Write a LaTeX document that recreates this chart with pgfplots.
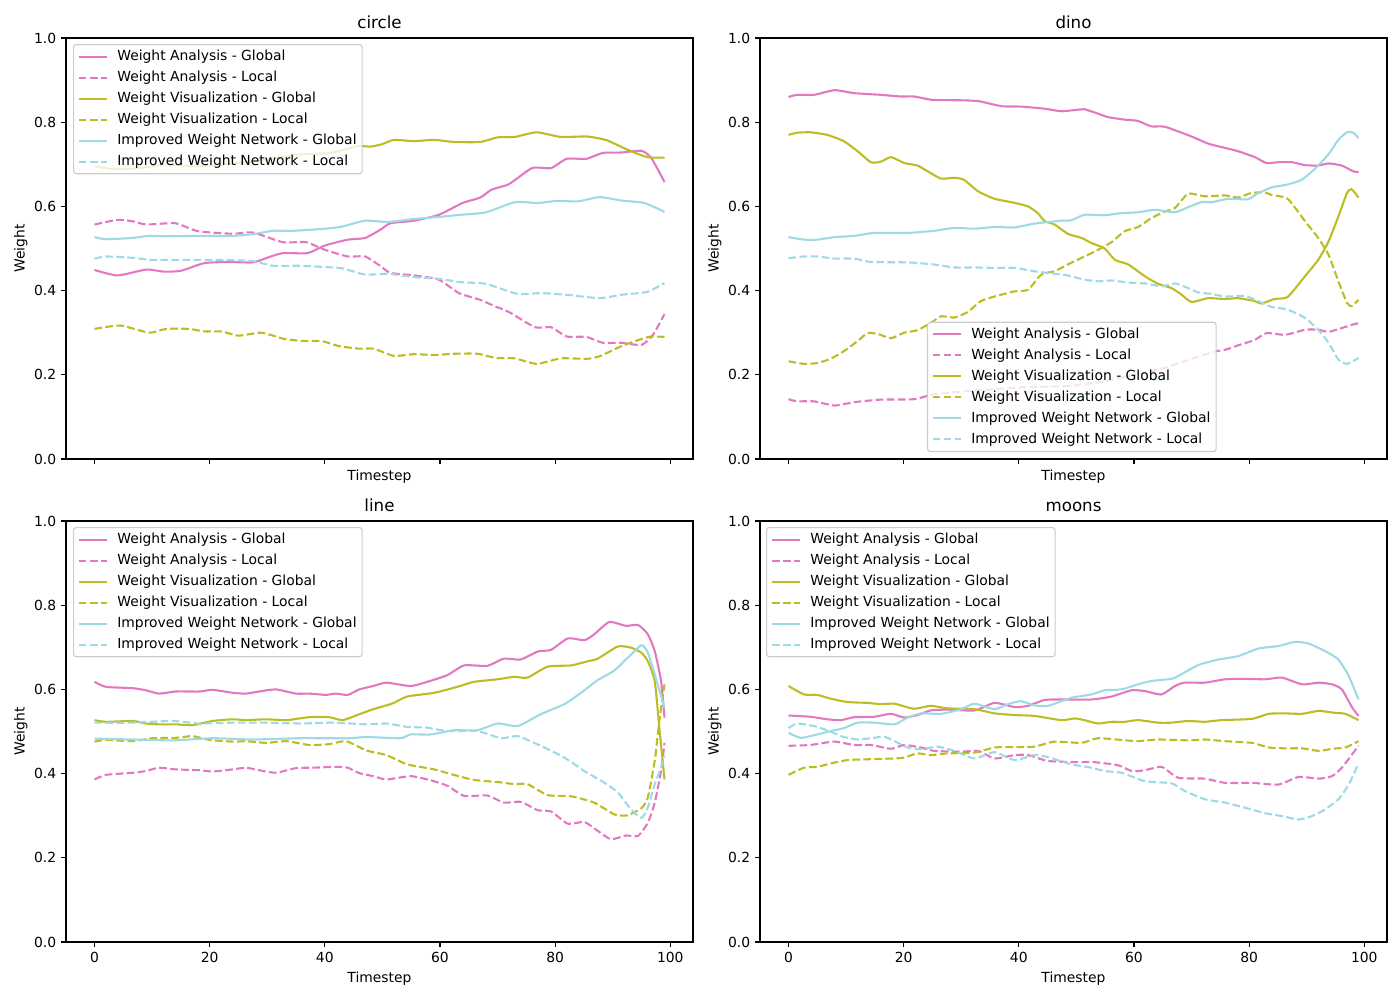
\documentclass[border=0pt]{standalone}
\usepackage{fontspec}
\setmainfont{DejaVu Sans}
\usepackage{pgfplots}
\pgfplotsset{compat=1.18}
\definecolor{cpink}{HTML}{E377C2}
\definecolor{colive}{HTML}{BCBD22}
\definecolor{ccyan}{HTML}{9EDAE5}
\definecolor{legframe}{HTML}{CCCCCC}
\pgfplotsset{
  panel/.style={
    scale only axis, width=451.44pt, height=303.12pt,
    xmin=-4.95, xmax=103.95, ymin=0, ymax=1,
    xtick={0,20,40,60,80,100}, ytick={0,0.2,0.4,0.6,0.8,1},
    yticklabel style={/pgf/number format/.cd, fixed, fixed zerofill, precision=1},
    /pgf/number format/assume math mode=true,
    tick align=outside, major tick length=3.5pt,
    tick style={black, line width=0.8pt},
    xtick pos=bottom, ytick pos=left,
    axis line style={line width=0.8pt},
    ticklabel style={font=\fontsize{10}{12}\selectfont},
    label style={font=\fontsize{10}{12}\selectfont},
    title style={font=\fontsize{12}{14}\selectfont, at={(axis description cs:0.5,1)}, anchor=base, yshift=1pt},
    ylabel={Weight}, xlabel={Timestep},
    ylabel style={at={(axis description cs:-0.072,0.5)}, anchor=center, rotate=0},
    legend cell align=left,
    legend image code/.code={\draw[#1] (0pt,0pt) -- (20pt,0pt);},
    legend style={draw=legframe, fill=white, fill opacity=0.8, draw opacity=1, text opacity=1,
      rounded corners=2pt, font=\fontsize{10}{12}\selectfont, line width=0.8pt,
      inner xsep=3pt, inner ysep=3pt, row sep=3.6pt, column sep=6pt,
      nodes={inner sep=1pt, text height=7.5pt, text depth=2pt}},
    every axis plot/.append style={line width=1.5pt, smooth, tension=0.35},
  },
  gl/.style={solid},
  lo/.style={dash pattern=on 5.55pt off 2.4pt},
  toprow/.style={xticklabels={}, xlabel style={at={(axis description cs:0.5,-0.043)}, anchor=center}},
  botrow/.style={xlabel style={at={(axis description cs:0.5,-0.088)}, anchor=center}},
}
\begin{document}
\begin{tikzpicture}
\path[use as bounding box] (0,0) rectangle (1008pt,720pt);
% ---------------- circle ----------------
\begin{axis}[panel, toprow, at={(47.52pt,389.52pt)}, anchor=south west, title={circle},
  legend style={at={(0.0112,0.9857)}, anchor=north west}]
\addplot[cpink, gl] coordinates {(0,0.449)(4,0.436)(9,0.45)(12,0.445)(15,0.447)(19,0.465)(23,0.468)(27.5,0.467)(30,0.478)(32.7,0.489)(37,0.489)(40,0.507)(44,0.521)(47,0.525)(49.7,0.545)(51.4,0.56)(55.5,0.566)(59.8,0.58)(63.9,0.608)(67,0.621)(69,0.64)(72,0.653)(76,0.691)(79.3,0.691)(82,0.713)(85.4,0.713)(88.3,0.727)(91.5,0.728)(95,0.732)(96.7,0.715)(99,0.658)};
\addlegendentry{Weight Analysis - Global}
\addplot[cpink, lo] coordinates {(0,0.557)(4,0.568)(6.5,0.565)(9,0.557)(14,0.56)(18,0.541)(24,0.535)(27.5,0.538)(32.7,0.515)(36.7,0.515)(40,0.497)(44,0.481)(47,0.481)(49.7,0.458)(51.4,0.442)(55.5,0.436)(59.8,0.426)(63.3,0.394)(67,0.378)(69.5,0.363)(72,0.349)(76.5,0.313)(79.3,0.313)(82,0.291)(85.4,0.29)(88.3,0.276)(91.5,0.276)(95,0.271)(97,0.295)(99,0.344)};
\addlegendentry{Weight Analysis - Local}
\addplot[colive, gl] coordinates {(0,0.695)(4,0.688)(9,0.693)(12.5,0.70)(18,0.695)(27.5,0.707)(35.6,0.723)(41,0.727)(45.6,0.743)(48,0.742)(50,0.748)(52,0.758)(55.5,0.755)(59,0.758)(62.5,0.753)(67,0.753)(70,0.764)(73,0.765)(76.8,0.776)(81,0.765)(85.6,0.766)(89,0.757)(92.5,0.735)(96,0.717)(99,0.716)};
\addlegendentry{Weight Visualization - Global}
\addplot[colive, lo] coordinates {(0,0.309)(4.5,0.317)(9.5,0.30)(12.4,0.309)(16.5,0.309)(19,0.303)(22,0.303)(25,0.293)(29,0.30)(33,0.285)(36.7,0.28)(39.5,0.28)(42.5,0.268)(46,0.262)(48.5,0.262)(52,0.245)(55.5,0.249)(59,0.247)(62.5,0.25)(66.5,0.25)(69.7,0.24)(73,0.239)(76.8,0.226)(81,0.239)(85.6,0.238)(87.9,0.245)(91.5,0.268)(95,0.285)(96.7,0.291)(99,0.29)};
\addlegendentry{Weight Visualization - Local}
\addplot[ccyan, gl] coordinates {(0,0.527)(2,0.522)(6.5,0.525)(9.5,0.53)(12.4,0.529)(18,0.53)(24,0.53)(27.5,0.534)(31,0.542)(34.5,0.542)(40,0.547)(43,0.552)(47,0.566)(51,0.563)(55.5,0.57)(59.8,0.575)(63.6,0.58)(68,0.586)(73,0.61)(77,0.608)(80.3,0.613)(84,0.612)(87.7,0.622)(91.5,0.614)(95.5,0.608)(99,0.587)};
\addlegendentry{Improved Weight Network - Global}
\addplot[ccyan, lo] coordinates {(0,0.476)(2,0.481)(6.5,0.478)(10,0.473)(16,0.473)(22,0.473)(27.5,0.47)(31,0.459)(35.6,0.459)(40,0.456)(43,0.453)(47,0.438)(51,0.44)(55.5,0.432)(59.8,0.428)(63.6,0.42)(68,0.416)(73.5,0.392)(77.5,0.394)(82,0.39)(87.7,0.382)(91.5,0.39)(96,0.397)(99,0.418)};
\addlegendentry{Improved Weight Network - Local}
\end{axis}
% ---------------- dino ----------------
\begin{axis}[panel, toprow, at={(547.2pt,389.52pt)}, anchor=south west, title={dino},
  legend style={at={(0.2663,0.0166)}, anchor=south west}]
\addplot[cpink, gl] coordinates {(0,0.86)(1.5,0.865)(4.4,0.865)(8,0.876)(11.4,0.869)(16,0.865)(19.5,0.861)(21.8,0.861)(25,0.853)(30,0.852)(33,0.85)(37,0.838)(40.4,0.837)(44.5,0.832)(47.4,0.826)(50.5,0.83)(51.4,0.831)(53.8,0.82)(55.5,0.812)(58.4,0.806)(60.7,0.803)(63,0.79)(65.4,0.789)(70,0.766)(72.9,0.749)(75.8,0.739)(78.1,0.731)(81,0.717)(83,0.703)(85.1,0.705)(87.4,0.705)(89.7,0.698)(92,0.697)(93.8,0.702)(96.1,0.697)(98.1,0.683)(99,0.682)};
\addlegendentry{Weight Analysis - Global}
\addplot[cpink, lo] coordinates {(0,0.142)(1.5,0.137)(4.4,0.137)(8,0.127)(11.4,0.135)(16,0.141)(21.8,0.142)(25,0.153)(30,0.16)(35,0.165)(40,0.17)(45,0.172)(50,0.175)(55,0.185)(60,0.2)(65,0.215)(70,0.238)(74,0.255)(76,0.26)(78.1,0.27)(81,0.283)(83,0.299)(86.3,0.295)(89.7,0.307)(92,0.307)(93.8,0.302)(96.1,0.311)(98.4,0.321)(99,0.322)};
\addlegendentry{Weight Analysis - Local}
\addplot[colive, gl] coordinates {(0,0.77)(1.5,0.775)(3.8,0.776)(6.7,0.77)(9.6,0.755)(12,0.731)(14.3,0.705)(16,0.706)(17.8,0.717)(20.1,0.703)(22.4,0.697)(24.2,0.683)(26.5,0.666)(28.8,0.668)(30.5,0.663)(32.9,0.636)(35.8,0.618)(38.7,0.61)(41.6,0.6)(43.3,0.584)(44.5,0.565)(46.2,0.557)(48.5,0.535)(50.9,0.525)(52.6,0.513)(54.9,0.5)(56.7,0.473)(59,0.462)(61.9,0.434)(64.2,0.416)(66.5,0.406)(68.3,0.39)(70,0.373)(72.9,0.382)(75.8,0.38)(78.1,0.382)(81,0.375)(82.1,0.369)(84.4,0.38)(86.7,0.385)(89.7,0.434)(92,0.473)(93.8,0.517)(95.5,0.576)(97,0.632)(97.8,0.641)(99,0.621)};
\addlegendentry{Weight Visualization - Global}
\addplot[colive, lo] coordinates {(0,0.232)(2.7,0.226)(5,0.228)(7.3,0.238)(9.6,0.256)(12,0.28)(13.7,0.299)(15.5,0.297)(17.8,0.287)(20.1,0.3)(22.4,0.306)(24.7,0.323)(26.5,0.339)(28.8,0.336)(31.1,0.349)(33.4,0.375)(35.8,0.386)(39.2,0.398)(41.6,0.402)(43.9,0.438)(46.2,0.446)(48.5,0.462)(51.4,0.481)(53.8,0.497)(56.1,0.515)(58.4,0.541)(60.7,0.551)(63,0.572)(65.4,0.588)(67.1,0.596)(69.4,0.63)(72.3,0.624)(75.8,0.626)(78.1,0.621)(80.4,0.632)(82.8,0.633)(83.9,0.627)(86.7,0.618)(89.7,0.565)(92,0.525)(93.8,0.485)(95.5,0.422)(97,0.371)(97.8,0.363)(99,0.378)};
\addlegendentry{Weight Visualization - Local}
\addplot[ccyan, gl] coordinates {(0,0.527)(2.7,0.521)(5,0.521)(8,0.527)(11.4,0.53)(14.9,0.537)(20.7,0.537)(25.3,0.542)(28.8,0.549)(32.3,0.547)(35.8,0.551)(39.2,0.55)(42.7,0.559)(47.4,0.566)(49.1,0.567)(51.4,0.58)(54.9,0.579)(57.8,0.584)(60.7,0.586)(63.6,0.592)(67.1,0.586)(69.4,0.598)(71.7,0.61)(73.5,0.61)(76.4,0.618)(79.8,0.617)(81.6,0.632)(83.9,0.645)(86.7,0.652)(89.1,0.663)(91.4,0.689)(93.8,0.724)(95.5,0.758)(97,0.776)(98.1,0.775)(99,0.762)};
\addlegendentry{Improved Weight Network - Global}
\addplot[ccyan, lo] coordinates {(0,0.477)(2.7,0.481)(5,0.481)(8,0.476)(11.4,0.476)(14.3,0.468)(20.7,0.467)(25.3,0.462)(28.8,0.455)(32.3,0.455)(35.8,0.454)(39.2,0.454)(42.7,0.446)(46.2,0.44)(48.5,0.436)(51.4,0.426)(53.8,0.422)(56.1,0.424)(59,0.419)(61.9,0.417)(64.8,0.41)(67.1,0.417)(69.4,0.406)(71.1,0.396)(73.5,0.392)(75.8,0.386)(79.3,0.387)(81.6,0.375)(83.9,0.361)(86.7,0.355)(89.7,0.335)(92,0.307)(93.8,0.276)(95.5,0.236)(97,0.226)(99,0.24)};
\addlegendentry{Improved Weight Network - Local}
\end{axis}
% ---------------- line ----------------
\begin{axis}[panel, botrow, at={(47.52pt,41.76pt)}, anchor=south west, title={line},
  legend style={at={(0.0112,0.9857)}, anchor=north west}]
\addplot[cpink, gl] coordinates {(0,0.618)(2,0.606)(6.6,0.603)(8.9,0.598)(11.2,0.59)(14.1,0.595)(18.2,0.595)(20.5,0.599)(24,0.592)(26.3,0.59)(28.6,0.595)(31.5,0.6)(35,0.59)(37.3,0.59)(40.2,0.587)(41.9,0.59)(44,0.587)(46,0.6)(48.4,0.608)(50.7,0.616)(54.9,0.608)(57.8,0.618)(61.3,0.634)(64.2,0.657)(68.2,0.656)(71.1,0.673)(74,0.671)(77,0.69)(79.3,0.694)(82.2,0.721)(85.1,0.717)(86.8,0.731)(89.4,0.76)(92.3,0.751)(94.4,0.753)(96.1,0.731)(97.3,0.691)(98.4,0.62)(99,0.533)};
\addlegendentry{Weight Analysis - Global}
\addplot[cpink, lo] coordinates {(0,0.386)(2,0.397)(6.6,0.402)(8.9,0.406)(11.2,0.414)(14.1,0.41)(18.2,0.408)(20.5,0.405)(24,0.41)(26.3,0.414)(28.6,0.408)(31.5,0.402)(35,0.413)(37.9,0.414)(41.9,0.416)(44,0.414)(46,0.401)(48.4,0.394)(50.7,0.386)(54.9,0.394)(58.4,0.384)(61.3,0.371)(64.2,0.347)(68.2,0.348)(71.1,0.331)(74,0.333)(77,0.313)(79.3,0.31)(82.2,0.281)(85.1,0.285)(87.4,0.264)(89.7,0.244)(92.3,0.253)(94.4,0.252)(96.1,0.283)(97.3,0.331)(98.4,0.406)(99,0.473)};
\addlegendentry{Weight Analysis - Local}
\addplot[colive, gl] coordinates {(0,0.527)(2,0.523)(6.6,0.525)(8.9,0.519)(11.2,0.517)(14.1,0.517)(17,0.515)(20.5,0.525)(24,0.529)(26.3,0.527)(29.8,0.529)(33.3,0.527)(37.3,0.534)(40.8,0.534)(43.1,0.527)(46,0.541)(48.4,0.553)(50.7,0.562)(52,0.568)(54.3,0.583)(59,0.592)(63,0.606)(65.9,0.618)(70,0.624)(72.9,0.63)(75.2,0.628)(78.7,0.654)(82.8,0.657)(85.7,0.667)(87.4,0.673)(90.9,0.702)(93.2,0.699)(95,0.687)(96.1,0.667)(97.3,0.62)(98.1,0.509)(99,0.386)};
\addlegendentry{Weight Visualization - Global}
\addplot[colive, lo] coordinates {(0,0.476)(2,0.48)(6.6,0.477)(10,0.484)(14.1,0.485)(17,0.489)(20,0.48)(24,0.476)(26.3,0.477)(29.8,0.473)(33.3,0.477)(37.3,0.468)(40.8,0.47)(43.7,0.477)(47.2,0.455)(50.7,0.444)(54.3,0.422)(59,0.41)(62.4,0.397)(65.9,0.385)(70,0.38)(72.9,0.375)(75.2,0.375)(78.7,0.349)(82.8,0.346)(86.8,0.331)(90.3,0.303)(92.6,0.301)(95,0.318)(96.1,0.343)(97.3,0.43)(98.1,0.525)(99,0.612)};
\addlegendentry{Weight Visualization - Local}
\addplot[ccyan, gl] coordinates {(0,0.483)(6.6,0.481)(13.5,0.479)(20.5,0.484)(27.5,0.481)(35.6,0.484)(44.3,0.484)(47.2,0.487)(53.1,0.484)(54.9,0.493)(58.4,0.493)(62.4,0.503)(66.5,0.503)(70,0.519)(73.5,0.513)(77.5,0.541)(81.6,0.565)(84.5,0.592)(87.4,0.622)(90.3,0.645)(92.6,0.675)(95,0.705)(96.1,0.687)(97.3,0.636)(99,0.557)};
\addlegendentry{Improved Weight Network - Global}
\addplot[ccyan, lo] coordinates {(0,0.521)(6.6,0.521)(13.5,0.525)(18.2,0.519)(24,0.521)(29.8,0.521)(35.6,0.519)(41.4,0.521)(47.2,0.517)(50.7,0.519)(54.3,0.511)(57.8,0.509)(61.3,0.501)(66.5,0.501)(70.6,0.484)(73.5,0.489)(77.5,0.466)(81.6,0.438)(85.1,0.406)(88.6,0.378)(90.9,0.355)(93.2,0.315)(95,0.295)(96.1,0.319)(97.3,0.375)(98.4,0.414)(99,0.442)};
\addlegendentry{Improved Weight Network - Local}
\end{axis}
% ---------------- moons ----------------
\begin{axis}[panel, botrow, at={(547.2pt,41.76pt)}, anchor=south west, title={moons},
  legend style={at={(0.0096,0.9857)}, anchor=north west}]
\addplot[cpink, gl] coordinates {(0,0.538)(3.8,0.535)(6.7,0.529)(9.1,0.527)(11.4,0.534)(14.9,0.535)(17.8,0.542)(20.1,0.533)(22.4,0.539)(24.7,0.55)(27.6,0.552)(32.3,0.55)(35.8,0.568)(39.3,0.558)(41.6,0.561)(44.5,0.575)(47.4,0.576)(52.6,0.576)(56.1,0.583)(59.6,0.598)(61.9,0.596)(64.8,0.588)(67.1,0.608)(68.8,0.616)(72.3,0.616)(75.8,0.624)(79.3,0.625)(82.8,0.624)(85.7,0.628)(89.2,0.612)(92.1,0.616)(94.4,0.612)(96.1,0.6)(97.9,0.557)(99,0.537)};
\addlegendentry{Weight Analysis - Global}
\addplot[cpink, lo] coordinates {(0,0.466)(3.8,0.468)(7.9,0.476)(11.4,0.468)(14.3,0.468)(17.8,0.459)(20.1,0.468)(23,0.462)(25.3,0.454)(30,0.452)(32.9,0.454)(35.8,0.436)(39.3,0.444)(41.6,0.444)(45.1,0.43)(50.9,0.427)(52.6,0.428)(57.2,0.42)(59.6,0.406)(61.9,0.408)(64.8,0.416)(67.7,0.39)(72.3,0.388)(75.8,0.378)(80.5,0.378)(85.1,0.374)(88.6,0.392)(92.1,0.388)(94.4,0.394)(96.1,0.414)(97.9,0.446)(99,0.466)};
\addlegendentry{Weight Analysis - Local}
\addplot[colive, gl] coordinates {(0,0.608)(2.7,0.588)(5,0.587)(7.3,0.578)(10.2,0.57)(13.7,0.568)(16,0.565)(18.4,0.566)(21.8,0.554)(24.7,0.561)(27.6,0.555)(32.3,0.553)(35.8,0.543)(39.3,0.539)(42.7,0.537)(47.4,0.527)(49.7,0.531)(51.4,0.527)(53.7,0.519)(56.1,0.523)(58.4,0.523)(60.7,0.527)(64.2,0.521)(66.5,0.521)(69.4,0.525)(72.3,0.523)(75.2,0.527)(80.5,0.53)(83.4,0.542)(86.3,0.543)(89.2,0.542)(92.1,0.549)(94.4,0.545)(96.7,0.542)(99,0.527)};
\addlegendentry{Weight Visualization - Global}
\addplot[colive, lo] coordinates {(0,0.397)(2.7,0.414)(5,0.416)(7.3,0.424)(10.2,0.432)(13.7,0.434)(18.4,0.436)(20.1,0.438)(22.4,0.448)(24.7,0.444)(27.6,0.448)(32.3,0.45)(35.8,0.462)(39.3,0.463)(42.7,0.464)(46.2,0.476)(50.9,0.473)(53.7,0.484)(57.8,0.48)(60.7,0.477)(64.2,0.481)(69.4,0.479)(72.3,0.481)(75.8,0.477)(80.5,0.473)(83.4,0.462)(86.3,0.46)(89.2,0.46)(92.1,0.454)(94.4,0.459)(96.7,0.462)(99,0.477)};
\addlegendentry{Weight Visualization - Local}
\addplot[ccyan, gl] coordinates {(0,0.497)(2.1,0.485)(5,0.493)(7.3,0.501)(9.6,0.508)(12,0.521)(14.9,0.521)(18.4,0.517)(20.7,0.533)(23,0.543)(26.5,0.542)(30,0.553)(32.3,0.566)(35.8,0.553)(38.1,0.565)(40.4,0.572)(42.7,0.562)(45.1,0.561)(49.1,0.58)(52.6,0.588)(54.9,0.598)(57.8,0.6)(60.7,0.612)(63,0.62)(66.5,0.625)(67.7,0.632)(71.2,0.658)(74.7,0.671)(78.1,0.679)(81.6,0.697)(85.1,0.703)(88,0.713)(90.3,0.709)(93.2,0.691)(95.5,0.671)(97.3,0.632)(99,0.576)};
\addlegendentry{Improved Weight Network - Global}
\addplot[ccyan, lo] coordinates {(0,0.508)(1.5,0.519)(4.4,0.513)(6.7,0.503)(9.6,0.487)(12,0.481)(14.9,0.485)(16.6,0.488)(18.4,0.477)(20.7,0.462)(23,0.458)(25.9,0.464)(28.8,0.454)(32.3,0.436)(35.8,0.451)(39.3,0.432)(42.7,0.444)(45.1,0.439)(49.1,0.422)(52.6,0.414)(54.9,0.406)(57.8,0.402)(61.9,0.382)(66.5,0.377)(68.8,0.359)(72.3,0.339)(75.8,0.331)(79.3,0.319)(82.8,0.306)(85.7,0.299)(88.6,0.291)(90.9,0.299)(93.2,0.315)(95.5,0.339)(97.3,0.374)(99,0.424)};
\addlegendentry{Improved Weight Network - Local}
\end{axis}
\end{tikzpicture}
\end{document}
